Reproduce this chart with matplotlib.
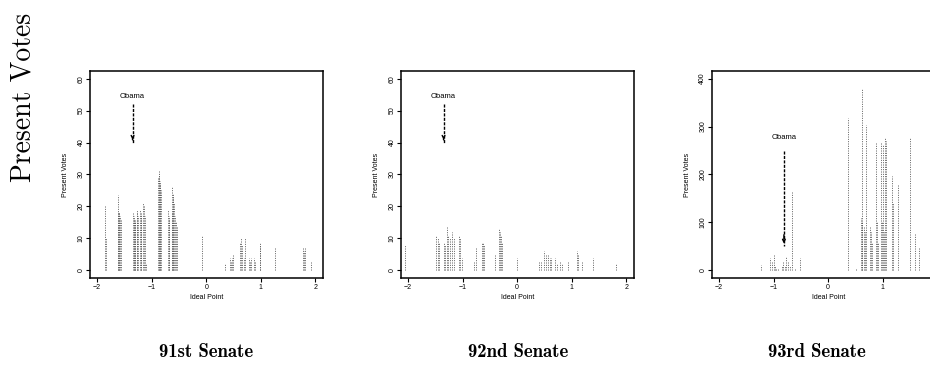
import matplotlib
matplotlib.use("Agg")
import matplotlib.pyplot as plt

# ideal points and present-vote counts
s91_x = [-1.86, -1.84, -1.62, -1.61, -1.60, -1.59, -1.58, -1.57, -1.34, -1.33, -1.32, -1.31, -1.30,
         -1.27, -1.26, -1.25, -1.21, -1.20, -1.19, -1.15, -1.14, -1.13, -1.10, -0.88, -0.87, -0.86,
         -0.85, -0.84, -0.83, -0.70, -0.69, -0.68, -0.63, -0.62, -0.61, -0.60, -0.59, -0.57, -0.56,
         -0.54, -0.07, 0.35, 0.44, 0.45, 0.47, 0.50, 0.62, 0.64, 0.66, 0.70, 0.72, 0.78, 0.80, 0.82,
         0.88, 0.90, 0.98, 0.99, 1.27, 1.78, 1.80, 1.82, 1.93]
s91_v = [20, 10, 18, 23.5, 18, 18, 17, 16, 18, 17, 16, 15, 16,
         19, 18, 17, 19, 18, 17, 21, 20, 17, 2, 29, 31.5, 30,
         28, 27, 25, 19, 17, 16, 18, 26, 24, 23, 21, 17, 15,
         14, 11, 2, 4, 3, 4, 5, 9, 10, 8, 4, 10, 4, 3, 4,
         4, 3, 9, 8, 7, 7, 6, 7, 3]

s92_x = [-2.05, -1.48, -1.46, -1.44, -1.35, -1.32, -1.29, -1.26, -1.24, -1.19, -1.16, -1.07, -1.05,
         -1.02, -0.79, -0.76, -0.65, -0.62, -0.60, -0.41, -0.34, -0.32, -0.29, -0.27, 0.00, 0.40,
         0.43, 0.49, 0.52, 0.57, 0.60, 0.62, 0.70, 0.73, 0.79, 0.82, 0.93, 1.09, 1.12, 1.18, 1.39, 1.82]
s92_v = [8, 11, 10, 9, 9, 8, 14, 11, 10, 12, 10, 11, 10,
         4, 3, 7, 9, 9, 8, 5, 13, 12, 11, 9, 4, 3,
         3, 6, 5, 5, 4, 4, 4, 2, 3, 2, 3, 6, 5, 3, 4, 2]

s93_x = [-1.23, -1.06, -1.03, -1.00, -0.98, -0.96, -0.92, -0.85, -0.82, -0.79, -0.77, -0.74, -0.69,
         -0.66, -0.61, -0.51, 0.37, 0.52, 0.60, 0.62, 0.63, 0.65, 0.67, 0.70, 0.76, 0.78, 0.80,
         0.87, 0.89, 0.91, 0.97, 0.99, 1.00, 1.02, 1.04, 1.06, 1.17, 1.19, 1.29, 1.50, 1.59, 1.67]
s93_v = [12, 25, 18, 32, 10, 5, 3, 10, 18, 8, 30, 20, 10,
         165, 5, 25, 318, 5, 110, 100, 380, 90, 80, 303, 90, 80, 60,
         267, 100, 60, 268, 100, 262, 80, 276, 270, 197, 140, 178, 279, 75, 48]

titles = ["91st Senate", "92nd Senate", "93rd Senate"]
y_ticks = [[0, 10, 20, 30, 40, 50, 60], [0, 10, 20, 30, 40, 50, 60], [0, 100, 200, 300, 400]]
x_ticks = [[-2, -1, 0, 1, 2], [-2, -1, 0, 1, 2], [-2, -1, 0, 1]]  # the last panel runs off the page

# Obama: label x, label y, arrow start, arrow end
obama = [(-1.35, 54.5, 52, 40), (-1.35, 54.5, 52, 40), (-0.81, 278, 250, 50)]

panels = [(s91_x, s91_v), (s92_x, s92_v), (s93_x, s93_v)]
ylims = [(-2.4, 62.4), (-2.4, 62.4), (-16, 416)]
lefts = [0.0968, 0.4312, 0.7655]
title_x = [0.222, 0.557, 0.8785]

sans = ["Liberation Sans", "DejaVu Sans"]

fig = plt.figure(figsize=(9.3, 3.82), dpi=100)

for i, (xs, vs) in enumerate(panels):
    ax = fig.add_axes([lefts[i], 0.2723, 0.2510, 0.5419])
    ax.vlines(xs, 0, vs, colors="#5c5c5c", linewidth=0.7, linestyles=(0, (1, 1.4)))
    ax.set_xlim(-2.13, 2.15)
    ax.set_ylim(*ylims[i])
    ax.set_xticks(x_ticks[i])
    ax.set_yticks(y_ticks[i])
    ax.set_xticklabels([str(t).replace("-", "\u2212") for t in x_ticks[i]], family=sans, fontsize=5)
    ax.set_yticklabels([str(t) for t in y_ticks[i]], family=sans, fontsize=5,
                       rotation=90, va="center")
    ax.tick_params(direction="out", length=3, width=0.8, pad=1)
    for sp in ax.spines.values():
        sp.set_linewidth(1.1)
    ax.text(-0.105, 0.5, "Present Votes", transform=ax.transAxes, rotation=90,
            ha="center", va="center", family=sans, fontsize=5)
    ax.text(0.5, -0.092, "Ideal Point", transform=ax.transAxes, ha="center", va="center",
            family=sans, fontsize=5)

    ox, oy, a0, a1 = obama[i]
    ax.text(ox, oy, "Obama", ha="center", va="center", family=sans, fontsize=5.5)
    ax.plot([ox, ox], [a0, a1], color="black", linewidth=1.0, linestyle=(0, (2.2, 1)))
    ax.annotate("", xy=(ox, a1), xytext=(ox, a1 + (a0 - a1) * 0.15),
                arrowprops=dict(arrowstyle="->", color="black", lw=1.0, mutation_scale=5))

    fig.text(title_x[i], 1 - 352 / 382, titles[i],
             ha="center", va="center", family=["cmb10", "DejaVu Serif"], fontsize=13.5)

fig.text(0.025, 0.746, "Present Votes", rotation=90, ha="center", va="center",
         family=["cmr10", "DejaVu Serif"], fontsize=20)

fig.savefig("out.png", dpi=100)
